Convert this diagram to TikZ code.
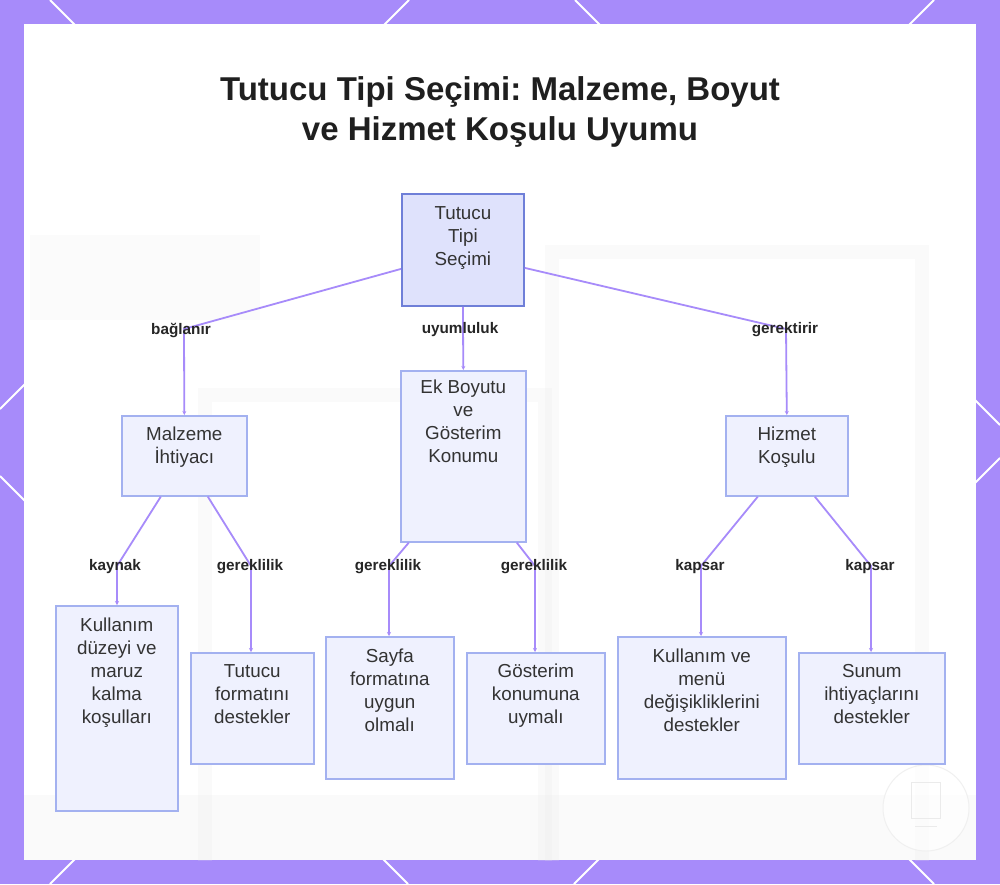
\documentclass[tikz,border=0pt]{standalone}
\usepackage{fontspec}
\setmainfont{Liberation Sans}
\frenchspacing
\usetikzlibrary{arrows.meta}
\definecolor{frame}{HTML}{A78BFA}
\definecolor{edge}{HTML}{A78BFA}
\definecolor{rootfill}{HTML}{DFE2FC}
\definecolor{rootdraw}{HTML}{6F7FD8}
\definecolor{boxfill}{HTML}{EFF1FE}
\definecolor{boxdraw}{HTML}{A3B1F0}
\definecolor{txt}{HTML}{333333}
\definecolor{ghost}{HTML}{E6E6E6}
\begin{document}
\begin{tikzpicture}[x=1pt,y=-1pt,
  lattice/.style={draw=white, line width=2pt},
  box/.style={draw=boxdraw, fill=boxfill, line width=1.6pt, inner sep=0, anchor=north west},
  rootbox/.style={draw=rootdraw, fill=rootfill, line width=1.8pt, inner sep=0, anchor=north west},
  ntext/.style={font=\fontsize{18.8}{23}\selectfont, text=txt, align=center, anchor=north, inner sep=0},
  elabel/.style={font=\bfseries\fontsize{15.3}{18}\selectfont, text=black!85, inner sep=1pt},
  conn/.style={draw=edge, line width=1.8pt, -{Stealth[length=4pt,width=4pt]}},
  ghostline/.style={draw=ghost, line width=14pt, opacity=0.18}]
\useasboundingbox (0,0) rectangle (1000,884);
% frame and lattice
\fill[frame] (0,0) rectangle (1000,884);
\draw[lattice] (50,0) -- (934,884);
\draw[lattice] (575,0) -- (1000,425);
\draw[lattice] (0,476) -- (408,884);
\draw[lattice] (409,0) -- (0,409);
\draw[lattice] (934,0) -- (50,884);
\draw[lattice] (1000,458) -- (574,884);
\fill[white] (24,24) rectangle (976,860);
% faint blurred background, kept inside the panel
\begin{scope}
\clip (24,24) rectangle (976,860);
\draw[ghostline] (205,395) rectangle (545,870);
\draw[ghostline] (552,252) rectangle (922,870);
\fill[ghost, opacity=0.12] (30,235) rectangle (260,320);
\fill[ghost, opacity=0.18] (24,795) rectangle (976,860);
\end{scope}
\draw[draw=ghost!60, fill=white, fill opacity=0.6, line width=1pt] (926,808) circle (43);
\draw[draw=ghost!80, line width=1pt] (911,782) rectangle (940,818);
\draw[draw=ghost!80, line width=1pt] (915,826) -- (937,826);

% title
\node[font=\bfseries\fontsize{33}{40}\selectfont, text=black!88, align=center] (title) at (500,112)
  {Tutucu Tipi Seçimi: Malzeme, Boyut\\ve Hizmet Koşulu Uyumu};

% boxes
\node[rootbox, minimum width=122, minimum height=112] (root) at (401,193) {};
\node[box, minimum width=125, minimum height=80]  (malz) at (121,415) {};
\node[box, minimum width=125, minimum height=171] (ek)   at (400,370) {};
\node[box, minimum width=122, minimum height=80]  (hiz)  at (725,415) {};
\node[box, minimum width=122, minimum height=205] (kul)  at (55,605) {};
\node[box, minimum width=123, minimum height=111] (tut)  at (190,652) {};
\node[box, minimum width=128, minimum height=142] (say)  at (325,636) {};
\node[box, minimum width=138, minimum height=111] (gos)  at (466,652) {};
\node[box, minimum width=168, minimum height=142] (kme)  at (617,636) {};
\node[box, minimum width=146, minimum height=111] (sun)  at (798,652) {};

% box texts
\node[ntext] (troot) at ([yshift=-13pt]root.north) {Tutucu\\Tipi\\Seçimi};
\node[ntext] (tmalz) at ([yshift=-12pt]malz.north) {Malzeme\\İhtiyacı};
\node[ntext] (tek)   at ([yshift=-10pt]ek.north) {Ek Boyutu\\ve\\Gösterim\\Konumu};
\node[ntext] (thiz)  at ([yshift=-12pt]hiz.north) {Hizmet\\Koşulu};
\node[ntext] (tkul)  at ([yshift=-13pt]kul.north) {Kullanım\\düzeyi ve\\maruz\\kalma\\koşulları};
\node[ntext] (ttut)  at ([yshift=-12pt]tut.north) {Tutucu\\formatını\\destekler};
\node[ntext] (tsay)  at ([yshift=-13pt]say.north) {Sayfa\\formatına\\uygun\\olmalı};
\node[ntext] (tgos)  at ([yshift=-12pt]gos.north) {Gösterim\\konumuna\\uymalı};
\node[ntext] (tkme)  at ([yshift=-13pt]kme.north) {Kullanım ve\\menü\\değişikliklerini\\destekler};
\node[ntext] (tsun)  at ([yshift=-12pt]sun.north) {Sunum\\ihtiyaçlarını\\destekler};

% bend points
\coordinate (b1) at (184,329);
\coordinate (b2) at (786,329);
\coordinate (b3) at (117,566);
\coordinate (b4) at (251,566);
\coordinate (b5) at (389,566);
\coordinate (b6) at (535,566);
\coordinate (b7) at (701,566);
\coordinate (b8) at (871,566);

% connectors
\draw[conn] ([yshift=-19pt]root.west) -- (b1) -- (malz.north);
\draw[conn] (root.south) -- (ek.north);
\draw[conn] ([yshift=-18pt]root.east) -- (b2) -- (hiz.north);
\draw[conn] ([xshift=-23.5pt]malz.south) -- (b3) -- (b3 |- kul.north);
\draw[conn] ([xshift=23.5pt]malz.south) -- (b4) -- (b4 |- tut.north);
\draw[conn] ([xshift=-54.5pt]ek.south) -- (b5) -- (b5 |- say.north);
\draw[conn] ([xshift=53.5pt]ek.south) -- (b6) -- (b6 |- gos.north);
\draw[conn] ([xshift=-29pt]hiz.south) -- (b7) -- (b7 |- kme.north);
\draw[conn] ([xshift=28pt]hiz.south) -- (b8) -- (b8 |- sun.north);

% connector labels
\node[elabel] (l1) at (181,330) {bağlanır};
\node[elabel] (l2) at (460,330) {uyumluluk};
\node[elabel] (l3) at (785,330) {gerektirir};
\node[elabel] (l4) at (115,567) {kaynak};
\node[elabel] (l5) at (250,567) {gereklilik};
\node[elabel] (l6) at (388,567) {gereklilik};
\node[elabel] (l7) at (534,567) {gereklilik};
\node[elabel] (l8) at (700,567) {kapsar};
\node[elabel] (l9) at (870,567) {kapsar};
\end{tikzpicture}
\end{document}
